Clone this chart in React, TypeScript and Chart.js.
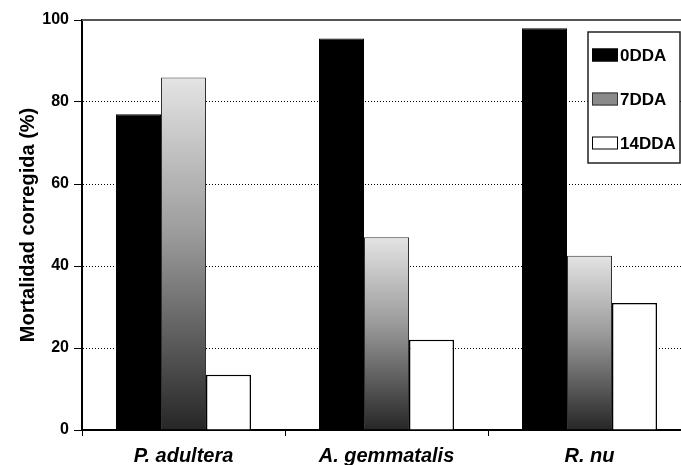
import React, { useEffect, useRef } from "react";
import { Chart, registerables } from "chart.js";

Chart.register(...registerables);

const categories = ["P. adultera", "A. gemmatalis", "R. nu"];
const seriesNames = ["0DDA", "7DDA", "14DDA"];
const dda0 = [77, 95.5, 98];
const dda7 = [86, 47, 42.5];
const dda14 = [13.5, 22, 31];
const yTicks = [0, 20, 40, 60, 80, 100];

const FONT = "'Liberation Sans', Arial, sans-serif";

function grayGradient(ctx: any) {
  const chart = ctx.chart;
  if (!chart.chartArea || ctx.raw == null) return "#888";
  const y = chart.scales.y;
  const top = y.getPixelForValue(ctx.raw);
  const bottom = y.getPixelForValue(0);
  const g = chart.ctx.createLinearGradient(0, top, 0, bottom);
  g.addColorStop(0, "#e4e4e4");
  g.addColorStop(0.45, "#9a9a9a");
  g.addColorStop(1, "#262626");
  return g;
}

const topLine = {
  id: "topLine",
  afterDraw(chart: any) {
    const { ctx, chartArea } = chart;
    ctx.save();
    ctx.strokeStyle = "#555";
    ctx.lineWidth = 2;
    ctx.beginPath();
    ctx.moveTo(chartArea.left, chartArea.top);
    ctx.lineTo(chartArea.right, chartArea.top);
    ctx.stroke();
    ctx.restore();
  },
};

const legendBox = {
  id: "legendBox",
  afterDraw(chart: any) {
    const { ctx, chartArea } = chart;
    const w = 92;
    const h = 131;
    const x0 = chartArea.right - 11 - w;
    const y0 = chartArea.top + 12;
    ctx.save();
    ctx.fillStyle = "#fff";
    ctx.fillRect(x0, y0, w, h);
    ctx.strokeStyle = "#222";
    ctx.lineWidth = 1.5;
    ctx.strokeRect(x0, y0, w, h);
    const fills = ["#000", "#8a8a8a", "#fff"];
    const strokes = ["#000", "#333", "#000"];
    chart.data.datasets.forEach((ds: any, i: number) => {
      const cy = y0 + 23 + i * 44;
      ctx.fillStyle = fills[i];
      ctx.fillRect(x0 + 4, cy - 6.5, 26, 13);
      ctx.strokeStyle = strokes[i];
      ctx.lineWidth = 1;
      ctx.strokeRect(x0 + 4.5, cy - 6, 25, 12);
      ctx.fillStyle = "#000";
      ctx.font = `bold 17px ${FONT}`;
      ctx.textBaseline = "middle";
      ctx.textAlign = "left";
      ctx.fillText(ds.label, x0 + 32, cy + 1);
    });
    ctx.restore();
  },
};

export default function App() {
  const ref = useRef<HTMLCanvasElement | null>(null);
  useEffect(() => {
    if (!ref.current) return;
    const chart = new Chart(ref.current, {
      type: "bar",
      data: {
        labels: categories,
        datasets: [
          {
            label: seriesNames[0],
            data: dda0,
            backgroundColor: "#000",
            borderColor: "#000",
            borderWidth: 1,
          },
          {
            label: seriesNames[1],
            data: dda7,
            backgroundColor: grayGradient as any,
            borderColor: "#333",
            borderWidth: 1,
          },
          {
            label: seriesNames[2],
            data: dda14,
            backgroundColor: "#fff",
            borderColor: "#000",
            borderWidth: 1.5,
          },
        ],
      },
      options: {
        responsive: false,
        animation: false,
        layout: { padding: { top: 20, right: 9, left: 0, bottom: 0 } },
        datasets: { bar: { categoryPercentage: 0.665, barPercentage: 1 } },
        plugins: {
          legend: { display: false },
          tooltip: { enabled: false },
        },
        scales: {
          x: {
            afterFit: (s: any) => {
              s.height = 35;
            },
            grid: {
              display: true,
              drawOnChartArea: false,
              drawTicks: true,
              tickLength: 6,
              tickColor: "#000",
              offset: true,
            },
            border: { display: true, color: "#000", width: 2 },
            ticks: {
              color: "#000",
              padding: 8,
              font: { family: FONT, size: 20, weight: "bold", style: "italic" },
            },
          },
          y: {
            min: 0,
            max: 100,
            afterFit: (s: any) => {
              s.width = 82;
            },
            afterBuildTicks: (s: any) => {
              s.ticks = yTicks.map((v) => ({ value: v }));
            },
            grid: {
              color: (c: any) =>
                c.tick && (c.tick.value === 0 || c.tick.value === 100) ? "rgba(0,0,0,0)" : "#000",
              lineWidth: 1,
              tickColor: "#000",
              tickLength: 8,
              tickWidth: 1,
            },
            border: { display: true, color: "#000", width: 2, dash: [1, 2] },
            ticks: {
              color: "#000",
              padding: 5,
              font: { family: FONT, size: 16, weight: "bold" },
            },
            title: {
              display: true,
              text: "Mortalidad corregida (%)",
              color: "#000",
              padding: { top: 16, bottom: 0 },
              font: { family: FONT, size: 20, weight: "bold" },
            },
          },
        },
      },
      plugins: [topLine, legendBox],
    });
    return () => chart.destroy();
  }, []);
  return (
    <div
      style={{
        position: "fixed",
        left: 0,
        top: 0,
        width: 681,
        height: 465,
        overflow: "hidden",
        background: "#fff",
      }}
    >
      <canvas ref={ref} width={700} height={465} style={{ width: 700, height: 465, display: "block" }} />
    </div>
  );
}
